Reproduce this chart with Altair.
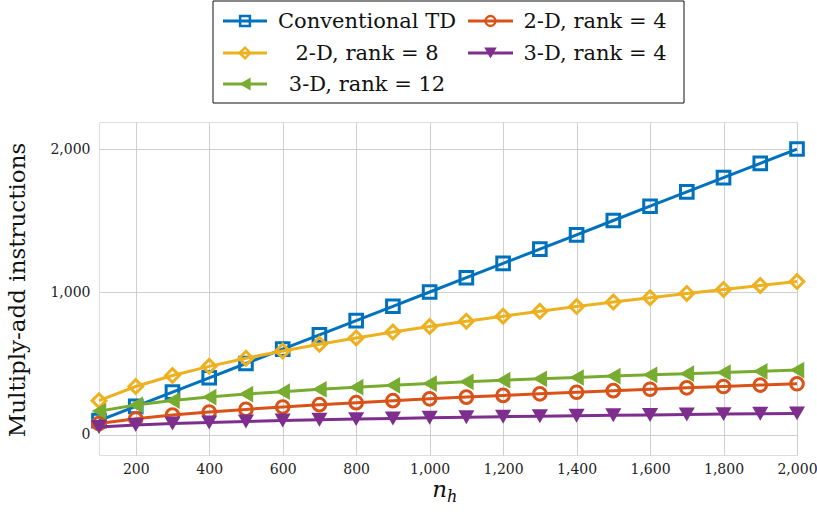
import altair as alt
import pandas as pd

# Problem size n_h on the horizontal axis
n_h = [100, 200, 300, 400, 500, 600, 700, 800, 900, 1000,
       1100, 1200, 1300, 1400, 1500, 1600, 1700, 1800, 1900, 2000]

# Multiply-add instruction counts per method
conventional_td = [100, 200, 300, 400, 500, 600, 700, 800, 900, 1000,
                   1100, 1200, 1300, 1400, 1500, 1600, 1700, 1800, 1900, 2000]
td2_rank4 = [80, 113, 139, 160, 179, 196, 212, 226, 240, 253,
             265, 277, 288, 299, 310, 320, 330, 339, 349, 358]
td2_rank8 = [240, 339, 416, 480, 537, 588, 635, 679, 720, 759,
             796, 831, 865, 898, 930, 960, 990, 1018, 1046, 1073]
td3_rank4 = [56, 70, 80, 88, 95, 101, 107, 111, 116, 120,
             124, 128, 131, 134, 138, 140, 143, 146, 149, 151]
td3_rank12 = [167, 210, 241, 265, 286, 303, 319, 334, 347, 360,
              372, 383, 393, 402, 412, 421, 429, 437, 445, 454]

series_names = ["Conventional TD", "2-D, rank = 4", "2-D, rank = 8",
                "3-D, rank = 4", "3-D, rank = 12"]
series_values = [conventional_td, td2_rank4, td2_rank8, td3_rank4, td3_rank12]

# Drawing style for each series: colour, marker shape, marker filled, marker size
styles = {
    "Conventional TD": ("#0072BD", "square", False, 160),
    "2-D, rank = 4": ("#D95319", "circle", False, 160),
    "2-D, rank = 8": ("#EDB120", "diamond", False, 190),
    "3-D, rank = 4": ("#7E2F8E", "triangle-down", True, 260),
    "3-D, rank = 12": ("#77AC30", "triangle-left", True, 280),
}

rows = []
for name, vals in zip(series_names, series_values):
    for x, y in zip(n_h, vals):
        rows.append({"series": name, "n_h": x, "value": y})
df = pd.DataFrame(rows)

SERIF = "DejaVu Serif"
W, H = 698, 333

x_enc = alt.X("n_h:Q",
              scale=alt.Scale(domain=[100, 2000], nice=False, zero=False),
              axis=alt.Axis(values=list(range(200, 2001, 200)), format=",.0f",
                            title=None, grid=True, gridColor="#cfcfcf",
                            domain=False, ticks=False, labelFont=SERIF,
                            labelFontSize=14, labelColor="#222",
                            labelPadding=7, labelFlush=False,
                            labelOverlap=False, labelBound=False))
y_enc = alt.Y("value:Q",
              scale=alt.Scale(domain=[-140, 2189], nice=False, zero=False),
              axis=alt.Axis(values=[0, 1000, 2000], format=",.0f",
                            title=None, grid=True, gridColor="#cfcfcf",
                            domain=False, ticks=False, labelFont=SERIF,
                            labelFontSize=14, labelColor="#222",
                            labelPadding=9, labelFlush=False))

layers = []
for name in series_names:
    color, shape, filled, size = styles[name]
    sub = alt.Chart(df).transform_filter(alt.datum.series == name)
    layers.append(sub.mark_line(color=color, strokeWidth=3).encode(x=x_enc, y=y_enc))
    layers.append(sub.mark_point(color=color, shape=shape, filled=filled,
                                 size=size, strokeWidth=3, opacity=1)
                  .encode(x=x_enc, y=y_enc))

one = alt.Data(values=[{}])

# Legend box above the plot area
layers.append(alt.Chart(one).mark_rect(fill="white", stroke="#111", strokeWidth=1)
              .encode(x=alt.value(114), x2=alt.value(585),
                      y=alt.value(-121), y2=alt.value(-19)))

col_line = [(124, 168), (369, 414)]
col_text = [268, 496]
row_y = [-101, -69, -38]
for i, name in enumerate(series_names):
    color, shape, filled, size = styles[name]
    c, r = i % 2, i // 2
    x0, x1 = col_line[c]
    yy = row_y[r]
    layers.append(alt.Chart(one).mark_rule(color=color, strokeWidth=3)
                  .encode(x=alt.value(x0), x2=alt.value(x1), y=alt.value(yy)))
    layers.append(alt.Chart(one).mark_point(color=color, shape=shape, filled=filled,
                                            size=size * 0.6, strokeWidth=2.5, opacity=1)
                  .encode(x=alt.value((x0 + x1) / 2), y=alt.value(yy)))
    layers.append(alt.Chart(one).mark_text(font=SERIF, fontSize=21, color="#111",
                                           align="center", baseline="middle")
                  .encode(x=alt.value(col_text[c]), y=alt.value(yy + 1),
                          text=alt.value(name)))

# Axis titles
layers.append(alt.Chart(one).mark_text(font=SERIF, fontSize=23, color="#111",
                                       angle=270, align="center", baseline="middle")
              .encode(x=alt.value(-81), y=alt.value(168),
                      text=alt.value("Multiply-add instructions")))
layers.append(alt.Chart(one).mark_text(font=SERIF, fontSize=23, fontStyle="italic",
                                       color="#111", align="right", baseline="alphabetic")
              .encode(x=alt.value(348), y=alt.value(375), text=alt.value("n")))
layers.append(alt.Chart(one).mark_text(font=SERIF, fontSize=16, fontStyle="italic",
                                       color="#111", align="left", baseline="alphabetic")
              .encode(x=alt.value(348), y=alt.value(380), text=alt.value("h")))

chart = alt.layer(*layers).properties(
    width=W, height=H,
    autosize=alt.AutoSizeParams(type="none"),
    padding={"left": 99, "top": 122, "right": 20, "bottom": 61},
).configure_view(stroke="#222", strokeWidth=1.2).configure(background="white")

chart.save("out.html", embed_options={"renderer": "svg", "actions": False})
